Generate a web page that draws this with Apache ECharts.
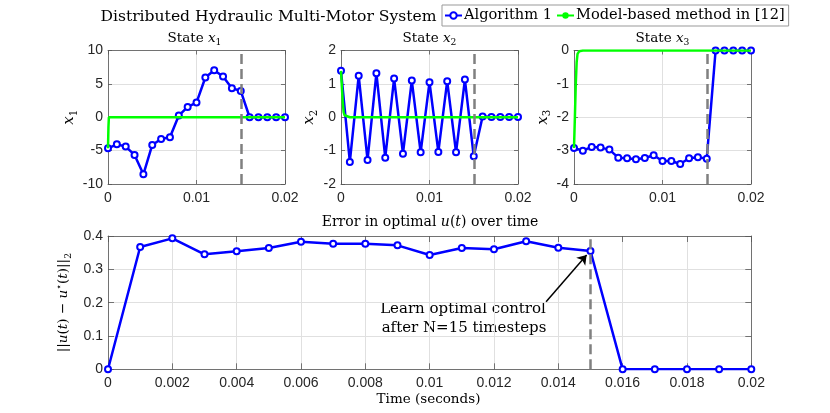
<!DOCTYPE html>
<html><head><meta charset="utf-8">
<script src="https://cdn.jsdelivr.net/npm/echarts@6/dist/echarts.min.js"></script>
<style>html,body{margin:0;padding:0;background:#fff}#c{width:830px;height:413px}</style>
</head><body><div id="c"></div>
<script>
// ---------- data ----------
const time = [0,0.001,0.002,0.003,0.004,0.005,0.006,0.007,0.008,0.009,0.010,0.011,0.012,0.013,0.014,0.015,0.016,0.017,0.018,0.019,0.020];
const x1Alg = [-4.65,-4.05,-4.4,-5.65,-8.55,-4.15,-3.25,-3.0,0.25,1.55,2.2,5.95,7.05,6.1,4.35,3.95,0,0,0,0,0];
const x2Alg = [1.39,-1.34,1.24,-1.28,1.32,-1.21,1.16,-1.09,1.10,-1.05,1.05,-1.04,1.08,-1.05,1.13,-1.17,0.02,0.01,0.01,0.01,0.01];
const x3Alg = [-2.92,-3.0,-2.89,-2.91,-2.97,-3.21,-3.23,-3.26,-3.22,-3.14,-3.31,-3.31,-3.40,-3.23,-3.20,-3.24,0,0,0,0,0];
const errU = [0,0.367,0.393,0.345,0.354,0.364,0.383,0.377,0.377,0.372,0.343,0.364,0.360,0.384,0.365,0.355,0,0,0,0,0];
const x1ModelT = [0,0.00005,0.0001,0.02];
const x1Model  = [-4.65,-1.5,0,0];
const x2ModelT = [0,0.0001,0.0002,0.0003,0.0004,0.0006,0.001,0.02];
const x2Model  = [1.39,0.9,0.45,0.15,0.06,0.02,0,0];
const x3ModelT = [0,0.0001,0.0002,0.0003,0.0004,0.0006,0.001,0.02];
const x3Model  = [-2.92,-2.0,-1.0,-0.35,-0.1,-0.02,0,0];
const learnStep = 0.015;
const arrowFrom = [0.01362, 0.203];
const arrowTo = [0.01488, 0.343];
const legendNames = ['Algorithm 1','Model-based method in [12]'];

// ---------- style ----------
const SERIF = 'DejaVu Serif';
const SANS = 'Liberation Sans';
const mkRich = (fs) => ({
  n: {fontFamily: SERIF, fontSize: fs, color: '#000', lineHeight: Math.round(fs * 1.35)},
  i: {fontFamily: SERIF, fontSize: fs, fontStyle: 'italic', color: '#000', lineHeight: Math.round(fs * 1.35)},
  s: {fontFamily: SERIF, fontSize: fs * 0.68, color: '#000', lineHeight: Math.round(fs * 0.68), verticalAlign: 'bottom'},
  p: {fontFamily: SERIF, fontSize: fs * 0.75, color: '#000', lineHeight: Math.round(fs * 0.75), verticalAlign: 'top'}
});
const pairs = (t, v) => t.map((x, k) => [x, v[k]]);

const grids = [
  {left: 108, top: 50.5, width: 177, height: 133.5},
  {left: 341, top: 50.5, width: 177, height: 133.5},
  {left: 574, top: 50.5, width: 177, height: 133.5},
  {left: 108, top: 236, width: 643.3, height: 133.3}
];
const yCfg = [
  {min: -10, max: 10, interval: 5, name: '{i|x}{s|1}', gap: 29, fs: 15},
  {min: -2, max: 2, interval: 1, name: '{i|x}{s|2}', gap: 22, fs: 15},
  {min: -4, max: 0, interval: 1, name: '{i|x}{s|3}', gap: 17, fs: 15},
  {min: 0, max: 0.4, interval: 0.1, name: '{n|||}{i|u}{n|(}{i|t}{n|) − }{i|u}{p|⋆}{n|(}{i|t}{n|)||}{s|2}', gap: 28, fs: 13.5}
];
const xCfg = [
  {min: 0, max: 0.02, interval: 0.01},
  {min: 0, max: 0.02, interval: 0.01},
  {min: 0, max: 0.02, interval: 0.01},
  {min: 0, max: 0.02, interval: 0.002}
];
const axisLineStyle = {color: '#555', width: 0.8};
const gridLine = {show: true, lineStyle: {color: '#e0e0e0', width: 1}};
const xAxes = [], yAxes = [];
grids.forEach((g, k) => {
  const tl = k === 3 ? 6 : 4;
  xAxes.push({type: 'value', gridIndex: k, position: 'bottom', min: xCfg[k].min, max: xCfg[k].max, interval: xCfg[k].interval,
    axisLine: {show: true, onZero: false, lineStyle: axisLineStyle},
    axisTick: {show: true, inside: true, length: tl, lineStyle: axisLineStyle},
    axisLabel: {show: true, fontFamily: SANS, fontSize: 14, color: '#262626', margin: 7},
    splitLine: gridLine});
  xAxes.push({type: 'value', gridIndex: k, position: 'top', min: xCfg[k].min, max: xCfg[k].max, interval: xCfg[k].interval,
    axisLine: {show: true, onZero: false, lineStyle: axisLineStyle},
    axisTick: {show: true, inside: true, length: tl, lineStyle: axisLineStyle},
    axisLabel: {show: false}, splitLine: {show: false}});
  yAxes.push({type: 'value', gridIndex: k, position: 'left', min: yCfg[k].min, max: yCfg[k].max, interval: yCfg[k].interval,
    name: yCfg[k].name, nameLocation: 'middle', nameGap: yCfg[k].gap, nameRotate: 90,
    nameTextStyle: {rich: mkRich(yCfg[k].fs)},
    axisLine: {show: true, onZero: false, lineStyle: axisLineStyle},
    axisTick: {show: true, inside: true, length: tl, lineStyle: axisLineStyle},
    axisLabel: {show: true, fontFamily: SANS, fontSize: 14, color: '#262626', margin: 5},
    splitLine: gridLine});
  yAxes.push({type: 'value', gridIndex: k, position: 'right', min: yCfg[k].min, max: yCfg[k].max, interval: yCfg[k].interval,
    axisLine: {show: true, onZero: false, lineStyle: axisLineStyle},
    axisTick: {show: true, inside: true, length: tl, lineStyle: axisLineStyle},
    axisLabel: {show: false}, splitLine: {show: false}});
});

const dashStyle = {type: [10, 5], color: '#808080', width: 2.5};
const dashPair = (k) => [{coord: [learnStep, yCfg[k].min], symbol: 'none', lineStyle: dashStyle},
                         {coord: [learnStep, yCfg[k].max], symbol: 'none'}];
const markFor = (k, extra) => ({
  silent: true, symbol: ['none', 'none'], label: {show: false}, animation: false,
  lineStyle: dashStyle,
  data: [dashPair(k)].concat(extra || [])
});
const blue = (k, vals, extra) => ({
  type: 'line', name: legendNames[0], xAxisIndex: 2 * k, yAxisIndex: 2 * k,
  data: pairs(time, vals), symbol: 'emptyCircle', symbolSize: 6,
  lineStyle: {color: '#0000ff', width: 2.5}, itemStyle: {color: '#0000ff', borderWidth: 2.5},
  animation: false, z: 3,
  markLine: markFor(k, extra)
});
const green = (k, t, vals) => ({
  type: 'line', name: legendNames[1], xAxisIndex: 2 * k, yAxisIndex: 2 * k,
  data: pairs(t, vals), symbol: 'none', showSymbol: false,
  lineStyle: {color: '#00ff00', width: 2.5}, itemStyle: {color: '#00ff00'},
  animation: false, z: 4
});
const arrowPair = [{coord: arrowFrom, symbol: 'none', lineStyle: {type: 'solid', color: '#000', width: 1.5}},
                   {coord: arrowTo, symbol: 'arrow', symbolSize: 9}];

const txt = (text, x, y, fs) => ({type: 'text', x: x, y: y, silent: true,
  style: {text: text, rich: mkRich(fs), align: 'center', verticalAlign: 'middle',
    fontFamily: SERIF, fontSize: fs, fill: '#000'}});

const option = {
  backgroundColor: '#fff',
  animation: false,
  grid: grids.map(g => Object.assign({containLabel: false}, g)),
  xAxis: xAxes, yAxis: yAxes,
  legend: {
    data: [{name: legendNames[0]}, {name: legendNames[1]}],
    left: 442, top: 5, orient: 'horizontal',
    padding: [3, 4, 3, 2], itemGap: 4, itemWidth: 17, itemHeight: 8,
    borderColor: '#999', borderWidth: 1, backgroundColor: '#fff',
    textStyle: {fontFamily: SERIF, fontSize: 14.6, color: '#000', padding: [0, 0, 0, -3]},
    selectedMode: false
  },
  series: [
    blue(0, x1Alg), green(0, x1ModelT, x1Model),
    blue(1, x2Alg), green(1, x2ModelT, x2Model),
    blue(2, x3Alg), green(2, x3ModelT, x3Model),
    blue(3, errU, [arrowPair])
  ],
  graphic: [
    txt('{n|Distributed Hydraulic Multi-Motor System}', 268.5, 17, 15.6),
    txt('{n|State }{i|x}{s|1}', 194.5, 38, 13.5),
    txt('{n|State }{i|x}{s|2}', 429.5, 38, 13.5),
    txt('{n|State }{i|x}{s|3}', 662.5, 38, 13.5),
    txt('{n|Error in optimal }{i|u}{n|(}{i|t}{n|) over time}', 430, 222.5, 14),
    txt('{n|Time (seconds)}', 428.5, 399.5, 13.5),
    txt('{n|Learn optimal control}', 463, 309, 15),
    txt('{n|after N=15 timesteps}', 464, 328.5, 15)
  ]
};
const chart = echarts.init(document.getElementById('c'), null, {renderer: 'canvas'});
chart.setOption(option);
</script></body></html>
